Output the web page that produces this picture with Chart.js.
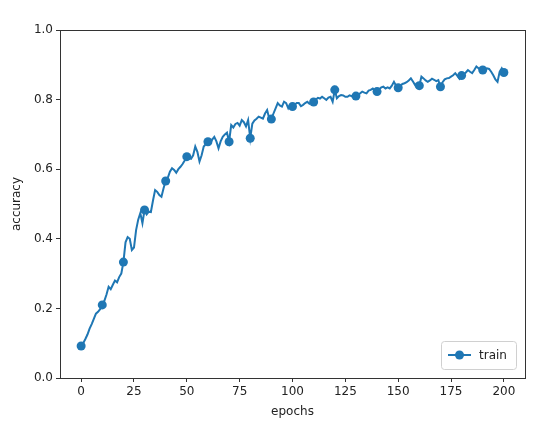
<!DOCTYPE html>
<html>
<head>
  <meta charset="utf-8">
  <title>accuracy</title>
  <script src="https://cdn.jsdelivr.net/npm/chart.js@4.4.0/dist/chart.umd.min.js"></script>
  <style>
    body { margin: 0; background: #fff; }
  </style>
</head>
<body>
  <canvas id="myChart" width="554" height="424"></canvas>

  <script>
    // values, one per epoch
    const accuracy = [
      0.092, 0.100, 0.112, 0.125, 0.142, 0.155, 0.170, 0.185, 0.190, 0.198,
      0.210, 0.222, 0.240, 0.262, 0.255, 0.268, 0.280, 0.275, 0.290, 0.300,
      0.333, 0.390, 0.405, 0.400, 0.368, 0.375, 0.425, 0.455, 0.474, 0.445,
      0.483, 0.470, 0.478, 0.477, 0.510, 0.540, 0.535, 0.526, 0.521, 0.545,
      0.566, 0.575, 0.593, 0.603, 0.598, 0.590, 0.600, 0.607, 0.615, 0.625,
      0.636, 0.632, 0.630, 0.640, 0.665, 0.650, 0.622, 0.640, 0.665, 0.672,
      0.679, 0.675, 0.685, 0.693, 0.680, 0.660, 0.680, 0.693, 0.700, 0.705,
      0.679, 0.727, 0.720, 0.730, 0.733, 0.725, 0.741, 0.735, 0.723, 0.741,
      0.689, 0.731, 0.740, 0.745, 0.751, 0.748, 0.745, 0.760, 0.770, 0.745,
      0.744, 0.760, 0.775, 0.790, 0.783, 0.780, 0.794, 0.790, 0.775, 0.785,
      0.780, 0.785, 0.790, 0.790, 0.781, 0.785, 0.790, 0.794, 0.788, 0.792,
      0.793, 0.800, 0.805, 0.803, 0.808, 0.804, 0.799, 0.806, 0.808, 0.794,
      0.828, 0.804, 0.810, 0.813, 0.812, 0.808, 0.808, 0.812, 0.810, 0.812,
      0.810, 0.815, 0.818, 0.823, 0.820, 0.818, 0.826, 0.828, 0.832, 0.826,
      0.823, 0.830, 0.835, 0.837, 0.832, 0.835, 0.832, 0.840, 0.851, 0.840,
      0.834, 0.840, 0.845, 0.847, 0.850, 0.855, 0.861, 0.852, 0.842, 0.846,
      0.840, 0.866, 0.861, 0.855, 0.851, 0.855, 0.860, 0.857, 0.853, 0.856,
      0.837, 0.850, 0.858, 0.861, 0.862, 0.866, 0.870, 0.876, 0.868, 0.860,
      0.869, 0.872, 0.878, 0.885, 0.880, 0.876, 0.885, 0.895, 0.890, 0.885,
      0.885, 0.887, 0.890, 0.888, 0.880, 0.870, 0.858, 0.851, 0.880, 0.890,
      0.878
    ];
    const epochs = accuracy.map((_, i) => i);

    const xTicks = [0, 25, 50, 75, 100, 125, 150, 175, 200];
    const yTicks = [0.0, 0.2, 0.4, 0.6, 0.8, 1.0];

    const blue = '#1f77b4';
    const textColor = '#222';
    const font = { family: 'DejaVu Sans', size: 12 };

    // four spines around the plot, like matplotlib
    const frame = {
      id: 'frame',
      afterDraw(chart) {
        const { ctx, chartArea: a } = chart;
        ctx.save();
        ctx.strokeStyle = '#333';
        ctx.lineWidth = 1;
        ctx.strokeRect(a.left + 0.5, a.top + 0.5, a.right - a.left, a.bottom - a.top);
        ctx.restore();
      }
    };

    // legend box in the lower right corner
    const innerLegend = {
      id: 'innerLegend',
      afterDraw(chart) {
        const { ctx, chartArea: a } = chart;
        const w = 75, h = 28;
        const x = a.right - 9 - w, y = a.bottom - 9 - h;
        ctx.save();
        ctx.beginPath();
        ctx.roundRect(x + 0.5, y + 0.5, w, h, 3);
        ctx.fillStyle = 'rgba(255,255,255,0.8)';
        ctx.fill();
        ctx.strokeStyle = '#d0d0d0';
        ctx.lineWidth = 1;
        ctx.stroke();
        const cy = y + h / 2;
        ctx.beginPath();
        ctx.moveTo(x + 7, cy);
        ctx.lineTo(x + 30, cy);
        ctx.strokeStyle = blue;
        ctx.lineWidth = 2;
        ctx.stroke();
        ctx.beginPath();
        ctx.arc(x + 18.5, cy, 4.5, 0, Math.PI * 2);
        ctx.fillStyle = blue;
        ctx.fill();
        ctx.fillStyle = textColor;
        ctx.font = '12px "DejaVu Sans"';
        ctx.textBaseline = 'middle';
        ctx.fillText('train', x + 38, cy + 1);
        ctx.restore();
      }
    };

    const ctx = document.getElementById('myChart').getContext('2d');
    const myChart = new Chart(ctx, {
      type: 'line',
      data: {
        datasets: [{
          label: 'train',
          data: accuracy.map((v, i) => ({ x: epochs[i], y: v })),
          borderColor: blue,
          backgroundColor: blue,
          borderWidth: 2,
          tension: 0,
          pointRadius: (c) => (c.dataIndex % 10 === 0 ? 4.5 : 0),
          pointHoverRadius: 0,
          pointBorderWidth: 0
        }]
      },
      options: {
        responsive: false,
        animation: false,
        layout: { padding: { left: 10, right: 29, top: 30, bottom: 5 } },
        scales: {
          x: {
            type: 'linear',
            min: -10,
            max: 210,
            afterBuildTicks: (s) => { s.ticks = xTicks.map(v => ({ value: v })); },
            afterFit: (s) => { s.height = 41; },
            grid: { display: true, drawOnChartArea: false, drawTicks: true, tickLength: 4, color: '#333' },
            border: { display: false },
            ticks: { color: textColor, font: font, padding: 3, maxRotation: 0 },
            title: { display: true, text: 'epochs', color: textColor, font: font, padding: { top: 2, bottom: 0 } }
          },
          y: {
            min: 0,
            max: 1,
            afterBuildTicks: (s) => { s.ticks = yTicks.map(v => ({ value: v })); },
            afterFit: (s) => { s.width = 50; },
            grid: { display: true, drawOnChartArea: false, drawTicks: true, tickLength: 4, color: '#333' },
            border: { display: false },
            ticks: { color: textColor, font: font, padding: 3, callback: (v) => v.toFixed(1) },
            title: { display: true, text: 'accuracy', color: textColor, font: font, padding: { top: 0, bottom: 2 } }
          }
        },
        plugins: {
          legend: { display: false },
          tooltip: { enabled: false }
        }
      },
      plugins: [frame, innerLegend]
    });
  </script>
</body>
</html>
